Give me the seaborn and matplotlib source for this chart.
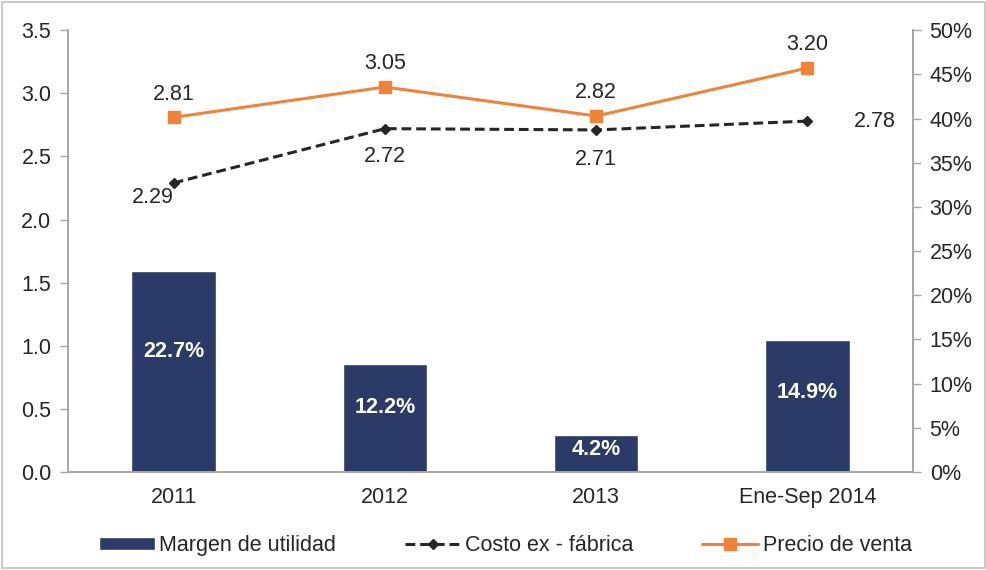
"""Margen de utilidad, costo ex-fábrica y precio de venta, 2011 - Ene-Sep 2014."""
import matplotlib
matplotlib.use('Agg')
import matplotlib.pyplot as plt
import seaborn as sns
import numpy as np
import pandas as pd
from matplotlib.patches import Rectangle
from matplotlib.ticker import FixedLocator, FuncFormatter

# Data
periodos = ['2011', '2012', '2013', 'Ene-Sep 2014']
margen = [22.7, 12.2, 4.2, 14.9]          # % (eje derecho)
costo = [2.29, 2.72, 2.71, 2.78]          # eje izquierdo
precio = [2.81, 3.05, 2.82, 3.20]         # eje izquierdo

BAR_COLOR = '#2B3A67'
ORANGE = '#F0823A'
DARK = '#262626'
GRAY = '#A6A6A6'
FS = 15.5

sns.set_theme(style='white')
plt.rcParams['font.family'] = ['Liberation Sans', 'DejaVu Sans']

fig = plt.figure(figsize=(9.87, 5.70), dpi=100)
ax = fig.add_axes([0.069, 0.172, 0.856, 0.775])
ax2 = ax.twinx()

df = pd.DataFrame({'periodo': periodos, 'margen': margen})
sns.barplot(data=df, x='periodo', y='margen', color=BAR_COLOR, width=0.4,
            saturation=1, ax=ax2, label='Margen de utilidad')
if ax2.get_legend() is not None:
    ax2.get_legend().remove()
ax2.set_ylim(0, 50)

# lines on the primary axis, drawn above the bars
ax.set_zorder(ax2.get_zorder() + 1)
ax.patch.set_visible(False)
xs = np.arange(len(periodos))
ax.plot(xs, costo, color=DARK, linestyle=(0, (3.2, 1.6)), linewidth=2.2,
        marker='D', markersize=5.5, label='Costo ex - fábrica')
ax.plot(xs, precio, color=ORANGE, linewidth=2.2, marker='s', markersize=8,
        label='Precio de venta')
ax.set_ylim(0, 3.5)
ax.set_xlim(-0.5, len(periodos) - 0.5)
ax2.set_xlim(-0.5, len(periodos) - 0.5)

# value labels
for x, v in zip(xs, precio):
    ax.text(x, v + 0.1, f'{v:.2f}', ha='center', va='bottom', fontsize=FS, color=DARK)
cost_off = [(-0.1, -0.03, 'top'), (0, -0.135, 'top'), (0, -0.15, 'top'), (0.22, 0, 'center')]
for x, v, (dx, dy, va) in zip(xs, costo, cost_off):
    ha = 'left' if va == 'center' else 'center'
    ax.text(x + dx, v + dy, f'{v:.2f}', ha=ha, va=va, fontsize=FS, color=DARK)
for x, m in zip(xs, margen):
    ax2.text(x, m * 0.6, f'{m:.1f}%', ha='center', va='center', fontsize=FS,
             color='white', fontweight='bold')

# axes styling
ax.set_yticks(np.arange(0, 3.51, 0.5))
ax.yaxis.set_major_formatter(FuncFormatter(lambda v, p: f'{v:.1f}'))
ax2.set_yticks(np.arange(0, 51, 5))
ax2.yaxis.set_major_formatter(FuncFormatter(lambda v, p: f'{int(v)}%'))
ax.set_xticks(xs)
ax.set_xticklabels(periodos)
ax.xaxis.set_minor_locator(FixedLocator(np.arange(-0.5, len(periodos), 1.0)))
ax.tick_params(axis='x', which='major', length=0, pad=11, labelsize=FS, colors=DARK)
ax.tick_params(axis='x', which='minor', length=6, width=1, color=GRAY, direction='out')
ax.tick_params(axis='y', length=6, width=1, color=GRAY, direction='out',
               labelsize=FS, labelcolor=DARK, pad=6)
ax2.tick_params(axis='y', length=6, width=1, color=GRAY, direction='out',
                labelsize=FS, labelcolor=DARK, pad=6)
ax2.tick_params(axis='x', length=0, labelbottom=False)
for a in (ax, ax2):
    a.set_xlabel('')
    a.set_ylabel('')
    a.spines['top'].set_visible(False)
    for s in ('left', 'right', 'bottom'):
        a.spines[s].set_color(GRAY)
        a.spines[s].set_linewidth(1.2)
ax.grid(False)
ax2.grid(False)

# legend
h1, l1 = ax2.get_legend_handles_labels()
h2, l2 = ax.get_legend_handles_labels()
fig.legend(h1 + h2, l1 + l2, loc='center', bbox_to_anchor=(0.512, 0.043), ncol=3,
           frameon=False, fontsize=FS, handlelength=2.6, handleheight=0.6,
           handletextpad=0.2, columnspacing=3.2, labelcolor=DARK)

# outer frame
fig.patches.append(Rectangle((0.002, 0.003), 0.996, 0.994, transform=fig.transFigure,
                             fill=False, edgecolor='#BFBFBF', linewidth=1.2))

fig.savefig('out.png', dpi=100)
plt.close(fig)
